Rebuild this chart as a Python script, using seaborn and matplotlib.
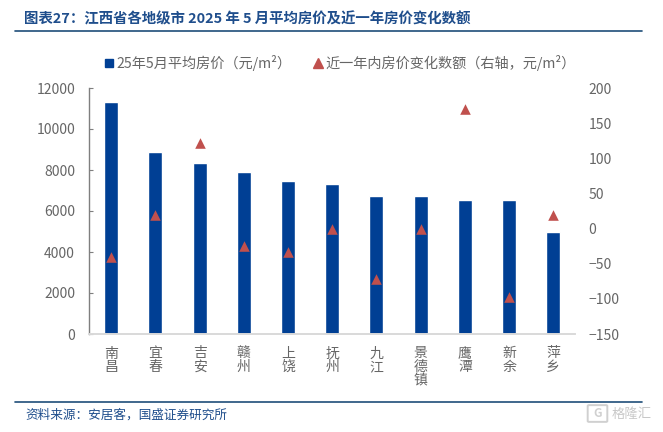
import numpy as np
import pandas as pd
import seaborn as sns
from matplotlib import pyplot as plt
from matplotlib.lines import Line2D
from matplotlib.patches import FancyBboxPatch

cities = ["南昌", "宜春", "吉安", "赣州", "上饶", "抚州", "九江", "景德镇", "鹰潭", "新余", "萍乡"]
avg_price = [11300, 8900, 8320, 7920, 7470, 7330, 6720, 6720, 6540, 6530, 4960]
price_change = [-40, 20, 122, -25, -33, 0, -72, 0, 170, -97, 19]
left_ticks = [0, 2000, 4000, 6000, 8000, 10000, 12000]
right_ticks = [-150, -100, -50, 0, 50, 100, 150, 200]

title = "图表27：江西省各地级市 2025 年 5 月平均房价及近一年房价变化数额"
source = "资料来源：安居客，国盛证券研究所"
bar_label = "25年5月平均房价（元/m²）"
marker_label = "近一年内房价变化数额（右轴，元/m²）"

sns.set_theme(style="white")
plt.rcParams["font.family"] = ["Noto Sans CJK SC", "DejaVu Sans"]

W, H = 663, 432
NAVY = "#003F94"
RED = "#C0504D"
GREY = "#666666"
RULE = "#1F4E79"

df = pd.DataFrame({"city": cities, "price": avg_price, "change": price_change})

fig = plt.figure(figsize=(W / 100, H / 100), dpi=100)
ax = fig.add_axes([89 / W, 1 - 334 / H, (575.5 - 89) / W, (334 - 88) / H])
sns.barplot(data=df, x="city", y="price", color=NAVY, saturation=1, width=0.317, ax=ax)
ax.set_xlim(-0.5, len(cities) - 0.5)
ax.set_ylim(0, 12000)
ax.set_yticks(left_ticks)
ax.set_xlabel("")
ax.set_ylabel("")
ax.set_xticks(range(len(cities)))
ax.set_xticklabels(["\n".join(c) for c in cities], fontsize=10, color=GREY, linespacing=0.95, va="top")
ax.tick_params(axis="x", length=0, pad=9)
ax.tick_params(axis="y", labelsize=10, labelcolor=GREY, length=3, width=0.8, color="#7F7F7F", direction="in", pad=10, left=True)

ax2 = ax.twinx()
sns.scatterplot(data=df, x="city", y="change", marker="^", color=RED, s=58, linewidth=0, ax=ax2, zorder=5)
ax2.set_ylim(-150, 200)
ax2.set_yticks(right_ticks)
ax2.set_ylabel("")
ax2.tick_params(axis="y", labelsize=10, labelcolor=GREY, length=0, pad=9.5)

for a in (ax, ax2):
    for side in ("top", "right", "left"):
        a.spines[side].set_visible(False)
    a.spines["bottom"].set_color("#D9D9D9")
    a.spines["bottom"].set_linewidth(1.2)
ax.spines["left"].set_visible(True)
ax.spines["left"].set_color("#7F7F7F")
ax.spines["left"].set_linewidth(1)

handles = [
    Line2D([], [], linestyle="", marker="s", markersize=6.2, color=NAVY, label=bar_label),
    Line2D([], [], linestyle="", marker="^", markersize=7, color=RED, label=marker_label),
]
fig.legend(handles=handles, loc="center left", bbox_to_anchor=(103.3 / W, 1 - 63 / H), ncol=2, frameon=False,
           fontsize=10.2, labelcolor=GREY, handlelength=0.8, handletextpad=0.15, columnspacing=1.43,
           borderpad=0, borderaxespad=0)

fig.text(24 / W, 1 - 19 / H, title, fontsize=10.4, fontweight="bold", color="#1F4E8C", va="center", ha="left", style="italic")
fig.add_artist(Line2D([15 / W, 642 / W], [1 - 31 / H] * 2, color=RULE, lw=1.2))
fig.add_artist(Line2D([15 / W, 642 / W], [1 - 402 / H] * 2, color=RULE, lw=1.2))
fig.text(25.4 / W, 1 - 415 / H, source, fontsize=9.1, color="#1F4E8C", va="center", ha="left", style="italic")

# watermark in the lower right corner
fig.add_artist(FancyBboxPatch((589 / W, 1 - 421 / H), 17 / W, 15 / H, boxstyle="round,pad=0.002",
                              transform=fig.transFigure, fill=False, edgecolor="#D0D0D0", lw=1.4))
fig.text(597.5 / W, 1 - 413.5 / H, "G", fontsize=8.5, fontweight="bold", color="#D0D0D0", va="center", ha="center")
fig.text(612 / W, 1 - 413.5 / H, "格隆汇", fontsize=9.6, color="#C8C8C8", va="center", ha="left")

fig.savefig("out.png", dpi=100)
